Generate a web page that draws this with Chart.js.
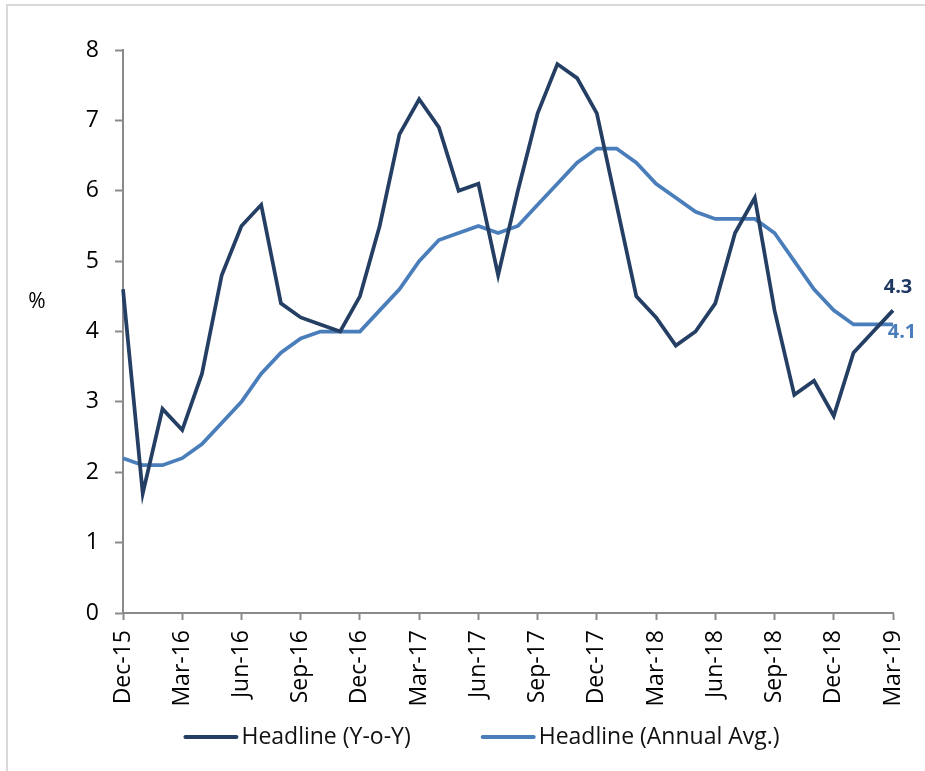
<!DOCTYPE html>
<html>
<head>
<meta charset="utf-8">
<script src="https://cdn.jsdelivr.net/npm/chart.js@4"></script>
<style>
  html, body { margin: 0; padding: 0; background: #fff; }
  #wrap { position: absolute; left: 0; top: 0; width: 925px; height: 771px; }
  #frame { position: absolute; left: 6px; top: 4px; width: 930px; height: 780px;
           border-top: 2px solid #d9d9d9; border-left: 2px solid #d9d9d9; pointer-events: none; }
  canvas { position: absolute; left: 0; top: 0; }
</style>
</head>
<body>
<div id="wrap">
  <canvas id="c" width="925" height="771"></canvas>
  <div id="frame"></div>
</div>
<script>
const months = [
  'Dec-15',
  'Jan-16','Feb-16','Mar-16','Apr-16','May-16','Jun-16','Jul-16','Aug-16','Sep-16','Oct-16','Nov-16','Dec-16',
  'Jan-17','Feb-17','Mar-17','Apr-17','May-17','Jun-17','Jul-17','Aug-17','Sep-17','Oct-17','Nov-17','Dec-17',
  'Jan-18','Feb-18','Mar-18','Apr-18','May-18','Jun-18','Jul-18','Aug-18','Sep-18','Oct-18','Nov-18','Dec-18',
  'Jan-19','Feb-19','Mar-19'
];
const headlineYoY = [
  4.6,
  1.7, 2.9, 2.6, 3.4, 4.8, 5.5, 5.8, 4.4, 4.2, 4.1, 4.0, 4.5,
  5.5, 6.8, 7.3, 6.9, 6.0, 6.1, 4.8, 6.0, 7.1, 7.8, 7.6, 7.1,
  5.8, 4.5, 4.2, 3.8, 4.0, 4.4, 5.4, 5.9, 4.3, 3.1, 3.3, 2.8,
  3.7, 4.0, 4.3
];
const headlineAvg = [
  2.2,
  2.1, 2.1, 2.2, 2.4, 2.7, 3.0, 3.4, 3.7, 3.9, 4.0, 4.0, 4.0,
  4.3, 4.6, 5.0, 5.3, 5.4, 5.5, 5.4, 5.5, 5.8, 6.1, 6.4, 6.6,
  6.6, 6.4, 6.1, 5.9, 5.7, 5.6, 5.6, 5.6, 5.4, 5.0, 4.6, 4.3,
  4.1, 4.1, 4.1
];
const yTicks = [0, 1, 2, 3, 4, 5, 6, 7, 8];
const seriesNames = ['Headline (Y-o-Y)', 'Headline (Annual Avg.)'];
const endLabels = ['4.3', '4.1'];

const FONT = "'Open Sans', 'DejaVu Sans', sans-serif";
const C_DARK = '#243f63';
const C_LIGHT = '#4a7ebb';
const AXIS = '#8a8a8a';

const extras = {
  id: 'extras',
  afterDraw(chart) {
    const ctx = chart.ctx;
    const x = chart.scales.x, y = chart.scales.y;
    ctx.save();
    // y-axis unit
    ctx.font = '21px ' + FONT;
    ctx.fillStyle = '#000';
    ctx.textAlign = 'center';
    ctx.textBaseline = 'middle';
    ctx.fillText('%', 37, 302);

    // end labels
    const last = months.length - 1;
    const px = x.getPixelForValue(last);
    ctx.font = 'bold 20px ' + FONT;
    ctx.fillStyle = '#1f3864';
    ctx.fillText(endLabels[0], px + 5, y.getPixelForValue(headlineYoY[last]) - 23);
    ctx.fillStyle = C_LIGHT;
    ctx.fillText(endLabels[1], px + 9, y.getPixelForValue(headlineAvg[last]) + 8);

    // legend
    ctx.font = '23px ' + FONT;
    ctx.textAlign = 'left';
    const lineLen = 55, gapTxt = 3, gapItem = 70;
    const w1 = ctx.measureText(seriesNames[0]).width;
    const w2 = ctx.measureText(seriesNames[1]).width;
    const total = lineLen + gapTxt + w1 + gapItem + lineLen + gapTxt + w2;
    let lx = 481.5 - total / 2;
    const ly = 737;
    const items = [[C_DARK, seriesNames[0], w1], [C_LIGHT, seriesNames[1], w2]];
    items.forEach(([col, txt, w]) => {
      ctx.strokeStyle = col;
      ctx.lineWidth = 4;
      ctx.lineCap = 'round';
      ctx.beginPath();
      ctx.moveTo(lx + 2, ly);
      ctx.lineTo(lx + lineLen - 2, ly);
      ctx.stroke();
      ctx.fillStyle = '#111';
      ctx.fillText(txt, lx + lineLen + gapTxt, ly);
      lx += lineLen + gapTxt + w + gapItem;
    });
    ctx.restore();
  }
};

new Chart(document.getElementById('c'), {
  type: 'line',
  data: {
    labels: months,
    datasets: [
      { label: seriesNames[0], data: headlineYoY, borderColor: C_DARK, backgroundColor: C_DARK,
        borderWidth: 3.75, pointRadius: 0, tension: 0, fill: false },
      { label: seriesNames[1], data: headlineAvg, borderColor: C_LIGHT, backgroundColor: C_LIGHT,
        borderWidth: 3.75, pointRadius: 0, tension: 0, fill: false }
    ]
  },
  options: {
    responsive: false,
    animation: false,
    devicePixelRatio: 1,
    layout: { padding: { left: 0, right: 32, top: 50, bottom: 58 } },
    plugins: { legend: { display: false }, tooltip: { enabled: false } },
    scales: {
      x: {
        offset: false,
        afterFit(s) { s.height = 100; s.paddingLeft = 0; s.paddingRight = 0; },
        grid: {
          drawOnChartArea: false,
          drawTicks: true,
          tickLength: 7,
          tickWidth: 2,
          tickColor: (c) => (c.index % 3 === 0 ? AXIS : 'rgba(0,0,0,0)'),
          color: AXIS
        },
        border: { display: true, color: AXIS, width: 2 },
        ticks: {
          autoSkip: false,
          maxRotation: 90,
          minRotation: 90,
          padding: 10,
          color: '#000',
          font: { family: FONT, size: 23 },
          callback: (v, i) => (i % 3 === 0 ? months[i] : '')
        }
      },
      y: {
        min: yTicks[0],
        max: yTicks[yTicks.length - 1],
        afterFit(s) { s.width = 123; },
        afterBuildTicks(s) { s.ticks = yTicks.map(v => ({ value: v })); },
        grid: { drawOnChartArea: false, drawTicks: true, tickLength: 8, tickWidth: 2, tickColor: AXIS },
        border: { display: true, color: AXIS, width: 2 },
        ticks: { padding: 16, color: '#000', font: { family: FONT, size: 23 } }
      }
    }
  },
  plugins: [extras]
});
</script>
</body>
</html>
